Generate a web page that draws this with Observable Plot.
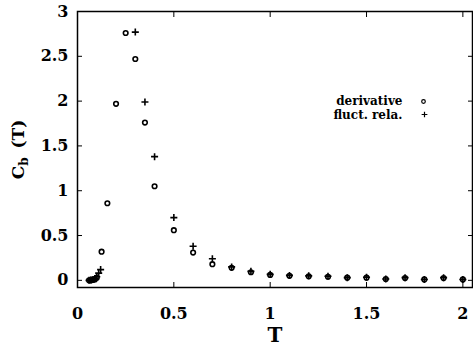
<!DOCTYPE html>
<html><head><meta charset="utf-8">
<script src="https://cdn.jsdelivr.net/npm/d3@7"></script>
<script src="https://cdn.jsdelivr.net/npm/@observablehq/plot@0.6"></script>
<style>body{margin:0;background:#fff;}</style>
</head><body><div id="chart"></div>
<script>
const derivT = [0.06,0.07,0.08,0.09,0.1,0.125,0.155,0.2,0.25,0.3,0.35,0.4,0.5,0.6,0.7,0.8,0.9,1.0,1.1,1.2,1.3,1.4,1.5,1.6,1.7,1.8,1.9,2.0];
const derivC = [0,0,0.005,0.01,0.03,0.32,0.86,1.97,2.76,2.47,1.76,1.05,0.56,0.31,0.18,0.14,0.09,0.06,0.05,0.045,0.04,0.03,0.03,0.015,0.025,0.01,0.025,0.01];
const flucT = [0.06,0.07,0.08,0.09,0.1,0.11,0.12,0.3,0.35,0.4,0.5,0.6,0.7,0.8,0.9,1.0,1.1,1.2,1.3,1.4,1.5,1.6,1.7,1.8,1.9,2.0];
const flucC = [0,0.005,0.01,0.02,0.04,0.08,0.12,2.77,1.99,1.38,0.70,0.38,0.24,0.15,0.10,0.067,0.055,0.05,0.045,0.03,0.035,0.015,0.03,0.01,0.03,0.01];
const xTicks = [0,0.5,1,1.5,2];
const yTicks = [0,0.5,1,1.5,2,2.5,3];
const legendLabels = ["derivative","fluct. rela."];

const deriv = derivT.map((t,i)=>({T:t,C:derivC[i]}));
const fluc = flucT.map((t,i)=>({T:t,C:flucC[i]}));
const fmt = d => String(d);
const SERIF = '"DejaVu Serif", "Liberation Serif", serif';

const plot = Plot.plot({
  width: 473, height: 345,
  marginLeft: 77, marginRight: 1, marginTop: 11, marginBottom: 58,
  x: {domain:[0,2.05]},
  y: {domain:[-0.08,3]},
  style: {background:"#fff", color:"#000", fontFamily: SERIF},
  marks: [
    Plot.frame({stroke:"#000", strokeWidth:1.5}),
    Plot.axisX({ticks:xTicks, tickSize:-5, tickPadding:25, tickFormat:fmt, fontSize:16, fontWeight:"bold", label:"T", labelAnchor:"center", labelArrow:"none", labelOffset:54}),
    Plot.axisX({anchor:"top", ticks:xTicks, tickSize:-5, tickFormat:()=>"", label:null}),
    Plot.axisY({ticks:yTicks, tickSize:-5, tickPadding:14, tickFormat:fmt, fontSize:16, fontWeight:"bold", label:"Cb (T)", labelAnchor:"center", labelArrow:"none", labelOffset:66}),
    Plot.axisY({anchor:"right", ticks:yTicks, tickSize:-5, tickFormat:()=>"", label:null}),
    Plot.dot(deriv, {x:"T", y:"C", r:2.3, stroke:"#000", strokeWidth:1.6, fill:"none"}),
    Plot.dot(fluc, {x:"T", y:"C", symbol:"plus", r:2.4, stroke:"#000", strokeWidth:1.6}),
    Plot.text([legendLabels[0]], {frameAnchor:"top-right", dx:-70, dy:93, textAnchor:"end", lineAnchor:"bottom", fontSize:12, fontWeight:"bold"}),
    Plot.text([legendLabels[1]], {frameAnchor:"top-right", dx:-70, dy:107, textAnchor:"end", lineAnchor:"bottom", fontSize:12, fontWeight:"bold"}),
    Plot.dot([0], {frameAnchor:"top-right", dx:-49, dy:90, r:1.8, stroke:"#000", strokeWidth:1.2, fill:"none"}),
    Plot.dot([0], {frameAnchor:"top-right", dx:-48, dy:103, symbol:"plus", r:2, stroke:"#000", strokeWidth:1.2})
  ]
});
document.getElementById("chart").appendChild(plot);
plot.style.setProperty("font-family", SERIF, "important");
plot.querySelectorAll("g, text").forEach(el => el.style.setProperty("font-family", SERIF, "important"));
plot.querySelectorAll("text").forEach(t => {
  if (t.textContent === "Cb (T)") {
    t.textContent = "";
    const ns = "http://www.w3.org/2000/svg";
    const a = document.createElementNS(ns,"tspan"); a.textContent = "C";
    const b = document.createElementNS(ns,"tspan"); b.textContent = "b"; b.setAttribute("font-size","12"); b.setAttribute("dy","4");
    const c = document.createElementNS(ns,"tspan"); c.textContent = " (T)"; c.setAttribute("dy","-4"); c.setAttribute("dx","3");
    t.append(a,b,c);
    t.setAttribute("font-size","17");
    t.setAttribute("fill","#000");
  }
  if (t.textContent === "T") { t.setAttribute("font-size","20"); t.setAttribute("fill","#000"); }
});
</script></body></html>
